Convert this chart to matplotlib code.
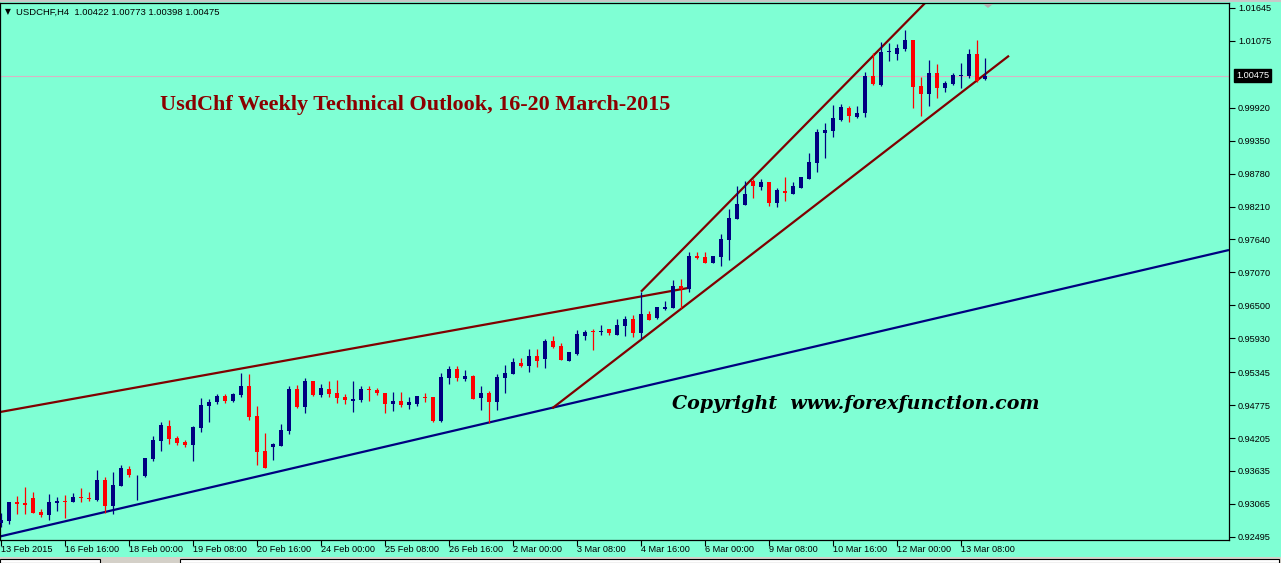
import matplotlib
matplotlib.use('Agg')
import matplotlib.pyplot as plt
from matplotlib.patches import Rectangle, Polygon
from matplotlib.transforms import blended_transform_factory

W, H, DPI = 1281, 563, 100
BG = '#7fffd4'
BULL = '#000080'
BEAR = '#ff0000'
MAROON = '#800000'
NAVY = '#000080'

symbol_text = "USDCHF,H4  1.00422 1.00773 1.00398 1.00475"
title_text = "UsdChf Weekly Technical Outlook, 16-20 March-2015"
copyright_text = "Copyright  www.forexfunction.com"

opens = [0.92740, 0.92775, 0.93098, 0.93081, 0.93168, 0.92925, 0.92879, 0.93086, 0.93107, 0.93104,
         0.93173, 0.93155, 0.93138, 0.93479, 0.93034, 0.93380, 0.93669, 0.93557, 0.93548, 0.93837,
         0.94159, 0.94413, 0.94206, 0.94142, 0.94090, 0.94384, 0.94764, 0.94828, 0.94932, 0.94846,
         0.94950, 0.95105, 0.94586, 0.93981, 0.94055, 0.94067, 0.94327, 0.95053, 0.94747, 0.95192,
         0.94950, 0.95048, 0.94984, 0.94915, 0.94851, 0.94863, 0.95041, 0.95036, 0.94984, 0.94799,
         0.94846, 0.94782, 0.94799, 0.94902, 0.94915, 0.94500, 0.95244, 0.95400, 0.95226, 0.95283,
         0.94902, 0.94984, 0.94834, 0.95244, 0.95318, 0.95503, 0.95451, 0.95625, 0.95572, 0.95884,
         0.95797, 0.95543, 0.95659, 0.95970, 0.96057, 0.96034, 0.96091, 0.95988, 0.96143, 0.96264,
         0.96026, 0.96351, 0.96282, 0.96438, 0.96455, 0.96835, 0.96783, 0.97355, 0.97342, 0.97238,
         0.97342, 0.97631, 0.97994, 0.98242, 0.98652, 0.98553, 0.98634, 0.98276, 0.98479, 0.98432,
         0.98536, 0.98691, 0.98963, 0.99487, 0.99516, 0.99707, 0.99915, 0.99759, 0.99828, 1.00468,
         1.00313, 1.00878, 1.00849, 1.00935, 1.01091, 1.00295, 1.00157, 1.00520, 1.00261, 1.00330,
         1.00473, 1.00468, 1.00849, 1.00422]
highs = [0.92903, 0.93093, 0.93202, 0.93358, 0.93271, 0.92977, 0.93232, 0.93185, 0.93220, 0.93254,
         0.93341, 0.93271, 0.93652, 0.93526, 0.93617, 0.93739, 0.93717, 0.93566, 0.93860, 0.94240,
         0.94482, 0.94517, 0.94240, 0.94171, 0.94413, 0.94898, 0.94880, 0.94967, 0.94967, 0.94979,
         0.95325, 0.95313, 0.94759, 0.94287, 0.94124, 0.94448, 0.95105, 0.95122, 0.95244, 0.95192,
         0.95140, 0.95192, 0.95209, 0.94967, 0.95192, 0.95105, 0.95105, 0.95071, 0.94984, 0.95002,
         0.95002, 0.94920, 0.94932, 0.94984, 0.94915, 0.95335, 0.95451, 0.95451, 0.95382, 0.95296,
         0.95105, 0.95019, 0.95308, 0.95469, 0.95585, 0.95590, 0.95745, 0.95745, 0.95918, 0.95970,
         0.95849, 0.95693, 0.96074, 0.96074, 0.96086, 0.96160, 0.96091, 0.96264, 0.96315, 0.96333,
         0.96737, 0.96403, 0.96472, 0.96576, 0.96939, 0.96956, 0.97424, 0.97424, 0.97429, 0.97355,
         0.97735, 0.98167, 0.98565, 0.98652, 0.98686, 0.98686, 0.98634, 0.98531, 0.98721, 0.98634,
         0.98721, 0.99136, 0.99551, 0.99655, 0.99967, 0.99984, 0.99949, 0.99949, 1.00537, 1.00866,
         1.01056, 1.01039, 1.01022, 1.01264, 1.01091, 1.00451, 1.00745, 1.00676, 1.00382, 1.00520,
         1.00693, 1.00935, 1.01091, 1.00773]
lows = [0.92661, 0.92718, 0.92891, 0.92891, 0.92913, 0.92844, 0.92787, 0.92948, 0.92827, 0.93104,
        0.93104, 0.93121, 0.93121, 0.92903, 0.92891, 0.93380, 0.93526, 0.93133, 0.93526, 0.93813,
        0.93986, 0.94107, 0.94090, 0.94055, 0.93813, 0.94315, 0.94487, 0.94789, 0.94816, 0.94828,
        0.94920, 0.94517, 0.93738, 0.93687, 0.93825, 0.94067, 0.94275, 0.94730, 0.94643, 0.94932,
        0.94920, 0.94920, 0.94816, 0.94794, 0.94660, 0.94834, 0.94851, 0.94950, 0.94633, 0.94678,
        0.94747, 0.94702, 0.94764, 0.94834, 0.94477, 0.94477, 0.95140, 0.95192, 0.95192, 0.94880,
        0.94695, 0.94470, 0.94685, 0.94984, 0.95318, 0.95434, 0.95347, 0.95439, 0.95422, 0.95768,
        0.95560, 0.95543, 0.95642, 0.95901, 0.95728, 0.95988, 0.95988, 0.95988, 0.95970, 0.95958,
        0.95913, 0.96247, 0.96264, 0.96420, 0.96455, 0.96455, 0.96731, 0.97302, 0.97238, 0.97238,
        0.97181, 0.97285, 0.97994, 0.98242, 0.98363, 0.98501, 0.98224, 0.98207, 0.98311, 0.98432,
        0.98536, 0.98691, 0.98807, 0.99049, 0.99413, 0.99690, 0.99673, 0.99742, 0.99759, 1.00313,
        1.00295, 1.00728, 1.00745, 1.00901, 0.99920, 0.99781, 0.99949, 1.00093, 1.00197, 1.00313,
        1.00261, 1.00434, 1.00370, 1.00398]
closes = [0.92787, 0.93093, 0.93069, 0.93052, 0.92913, 0.92879, 0.93093, 0.93116, 0.93098, 0.93185,
          0.93162, 0.93145, 0.93479, 0.93034, 0.93393, 0.93687, 0.93566, 0.93566, 0.93860, 0.94171,
          0.94431, 0.94194, 0.94120, 0.94090, 0.94396, 0.94777, 0.94828, 0.94932, 0.94846, 0.94967,
          0.95105, 0.94574, 0.93969, 0.93687, 0.94102, 0.94344, 0.95053, 0.94747, 0.95192, 0.94950,
          0.95065, 0.94967, 0.94902, 0.94868, 0.94880, 0.95048, 0.95031, 0.94979, 0.94794, 0.94846,
          0.94782, 0.94828, 0.94932, 0.94892, 0.94500, 0.95261, 0.95400, 0.95244, 0.95278, 0.94880,
          0.94984, 0.94834, 0.95261, 0.95330, 0.95526, 0.95451, 0.95625, 0.95538, 0.95884, 0.95785,
          0.95560, 0.95693, 0.96005, 0.96039, 0.96048, 0.96045, 0.96017, 0.96160, 0.96264, 0.96026,
          0.96351, 0.96247, 0.96472, 0.96472, 0.96835, 0.96783, 0.97355, 0.97320, 0.97238, 0.97355,
          0.97648, 0.98012, 0.98254, 0.98427, 0.98570, 0.98634, 0.98276, 0.98496, 0.98449, 0.98565,
          0.98721, 0.98980, 0.99499, 0.99533, 0.99742, 0.99932, 0.99776, 0.99828, 1.00468, 1.00330,
          1.00883, 1.00889, 1.00953, 1.01091, 1.00283, 1.00157, 1.00520, 1.00261, 1.00347, 1.00486,
          1.00486, 1.00849, 1.00382, 1.00475]

x_tick_bars = [0, 8, 16, 24, 32, 40, 48, 56, 64, 72, 80, 88, 96, 104, 112, 120]
x_tick_labels = ["13 Feb 2015", "16 Feb 16:00", "18 Feb 00:00", "19 Feb 08:00", "20 Feb 16:00",
                 "24 Feb 00:00", "25 Feb 08:00", "26 Feb 16:00", "2 Mar 00:00", "3 Mar 08:00",
                 "4 Mar 16:00", "6 Mar 00:00", "9 Mar 08:00", "10 Mar 16:00", "12 Mar 00:00",
                 "13 Mar 08:00"]
y_tick_values = [1.01645, 1.01075, 0.99920, 0.99350, 0.98780, 0.98210, 0.97640, 0.97070,
                 0.96500, 0.95930, 0.95345, 0.94775, 0.94205, 0.93635, 0.93065, 0.92495]
current_price = 1.00475

# trend lines (bar index, price)
upper_long_bars = [-0.125, 85.9]
upper_long_prices = [0.94655, 0.96801]
channel_top_bars = [80, 117]
channel_top_prices = [0.96737, 1.0194]
channel_bottom_bars = [68.9, 126.0]
channel_bottom_prices = [0.94719, 1.00819]
support_bars = [-0.125, 153.5]
support_prices = [0.92502, 0.97458]

plt.rcParams['font.family'] = ['Liberation Sans', 'DejaVu Sans']

fig = plt.figure(figsize=(W / DPI, H / DPI), dpi=DPI, facecolor=BG)
ax = fig.add_axes([0, 23 / H, 1229 / W, 537 / H], facecolor=BG)
ax.set_xlim(-0.125, 153.5)
ax.set_ylim(0.92441, 1.01731)

# price line
ax.axhline(current_price, color='#d8b4c4', lw=0.8, zorder=1)

# trend lines
ax.plot(support_bars, support_prices, color=NAVY, lw=1.6, zorder=2, solid_capstyle='butt')
ax.plot(upper_long_bars, upper_long_prices, color=MAROON, lw=1.6, zorder=2, solid_capstyle='butt')
ax.plot(channel_top_bars, channel_top_prices, color=MAROON, lw=1.6, zorder=2, solid_capstyle='butt')
ax.plot(channel_bottom_bars, channel_bottom_prices, color=MAROON, lw=1.6, zorder=2, solid_capstyle='butt')

# candles
min_body = 0.00016
for i, (o, h, l, c) in enumerate(zip(opens, highs, lows, closes)):
    col = BULL if c >= o else BEAR
    ax.vlines(i, l, h, color=col, lw=0.9, zorder=3)
    bottom = min(o, c)
    height = max(abs(c - o), min_body)
    ax.add_patch(Rectangle((i - 0.31, bottom), 0.62, height, facecolor=col,
                           edgecolor='none', zorder=4))

for s in ax.spines.values():
    s.set_color('black')
    s.set_linewidth(0.9)

# y axis (right)
ax.yaxis.tick_right()
ax.set_yticks(y_tick_values)
ax.set_yticklabels([f"{v:.5f}" for v in y_tick_values])
ax.tick_params(axis='y', direction='out', length=4, width=0.8, pad=2.5, labelsize=6.6,
               colors='black')

# x axis
ax.set_xticks(x_tick_bars)
ax.set_xticklabels([])
ax.tick_params(axis='x', direction='out', length=4, width=0.8)
for b, lab in zip(x_tick_bars, x_tick_labels):
    ax.annotate(lab, xy=(b, 0), xycoords=('data', 'axes fraction'),
                xytext=(0, -9), textcoords='offset pixels',
                ha='left', va='center', fontsize=6.6, color='black')

# current price box
trans = blended_transform_factory(ax.transAxes, ax.transData)
ax.text(1.0 + 7 / 1229, current_price, f"{current_price:.5f}", transform=trans,
        ha='left', va='center', fontsize=6.6, color='white', clip_on=False,
        bbox=dict(boxstyle='square,pad=0.25', facecolor='black', edgecolor='black'),
        zorder=10)

# symbol label
fig.text(5 / W, 1 - 12 / H, "\u25bc", fontsize=5.5, color='black', ha='left', va='center',
         family='DejaVu Sans')
fig.text(16 / W, 1 - 12 / H, symbol_text, fontsize=6.8, color='black', ha='left', va='center')

# title and copyright
fig.text(160 / W, 1 - 110 / H, title_text, fontsize=15.9, color='#8b0000', ha='left',
         va='baseline', family='Liberation Serif', weight='bold')
fig.text(672 / W, 1 - 409 / H, copyright_text, fontsize=13.7, color='black', ha='left',
         va='baseline', family='DejaVu Serif', weight='bold', style='italic')

# shift marker
fig.patches.append(Polygon([[983 / W, 1 - 4 / H], [993 / W, 1 - 4 / H], [988 / W, 1 - 8 / H]],
                           closed=True, transform=fig.transFigure, facecolor='#b0b0b0',
                           edgecolor='none'))

# window chrome
fig.patches.append(Rectangle((0, 1 - 1.5 / H), 1, 1.5 / H, transform=fig.transFigure,
                             facecolor='#c8c8c8', edgecolor='none'))
fig.patches.append(Rectangle((0, 0), 1, 6 / H, transform=fig.transFigure,
                             facecolor='#d4d0c8', edgecolor='none'))
fig.patches.append(Rectangle((0, 0), 100 / W, 4 / H, transform=fig.transFigure,
                             facecolor='white', edgecolor='black', lw=0.8))
fig.patches.append(Rectangle((180 / W, 0), 1099 / W, 4 / H, transform=fig.transFigure,
                             facecolor='white', edgecolor='black', lw=0.8))

fig.savefig('out.png', dpi=DPI, facecolor=BG)
